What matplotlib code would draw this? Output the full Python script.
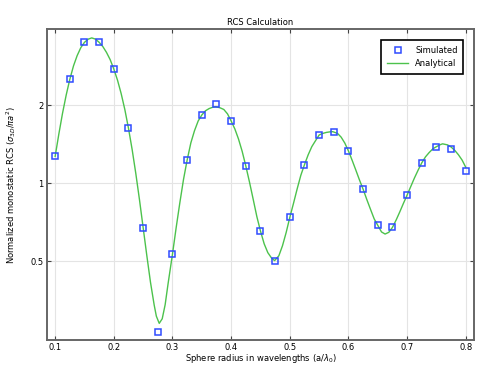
import matplotlib
matplotlib.use("Agg")
import matplotlib.pyplot as plt
from matplotlib.ticker import FixedLocator, NullLocator, FormatStrFormatter

# Simulierte Punkte (a/lambda0 von 0.1 bis 0.8)
sim_x = [0.1, 0.125, 0.15, 0.175, 0.2, 0.225, 0.25, 0.275, 0.3, 0.325,
         0.35, 0.375, 0.4, 0.425, 0.45, 0.475, 0.5, 0.525, 0.55, 0.575,
         0.6, 0.625, 0.65, 0.675, 0.7, 0.725, 0.75, 0.775, 0.8]
sim_y = [1.27, 2.53, 3.52, 3.52, 2.76, 1.63, 0.674, 0.266, 0.533, 1.23,
         1.835, 2.02, 1.74, 1.166, 0.654, 0.50, 0.739, 1.18, 1.536, 1.58,
         1.33, 0.948, 0.688, 0.676, 0.901, 1.20, 1.377, 1.357, 1.119]

# Analytische Kurve
ana_x = [0.1, 0.1063, 0.1125, 0.1188, 0.125, 0.1313, 0.1375, 0.1438, 0.15, 0.1563,
         0.1624, 0.1688, 0.175, 0.1813, 0.1875, 0.1938, 0.2, 0.2063, 0.2125, 0.2188,
         0.225, 0.2313, 0.2375, 0.2438, 0.25, 0.2563, 0.2625, 0.2688, 0.2725, 0.2774,
         0.2825, 0.2875, 0.2925, 0.3, 0.3063, 0.3125, 0.3188, 0.325, 0.3313, 0.3375,
         0.3438, 0.35, 0.3563, 0.3625, 0.3688, 0.3738, 0.3813, 0.3875, 0.3938, 0.4,
         0.4063, 0.4125, 0.4188, 0.425, 0.4313, 0.4375, 0.4438, 0.45, 0.4563, 0.4625,
         0.4688, 0.4741, 0.4813, 0.4875, 0.4938, 0.5, 0.5063, 0.5125, 0.5188, 0.525,
         0.5313, 0.5375, 0.5438, 0.55, 0.5563, 0.5625, 0.5688, 0.5733, 0.5813, 0.5875,
         0.5938, 0.6, 0.6063, 0.6125, 0.6188, 0.625, 0.6313, 0.6375, 0.6438, 0.65,
         0.6563, 0.6624, 0.6688, 0.675, 0.6813, 0.6875, 0.6938, 0.7, 0.7063, 0.7125,
         0.7188, 0.725, 0.7313, 0.7375, 0.7438, 0.75, 0.7563, 0.7604, 0.7688, 0.775,
         0.7813, 0.7875, 0.7938, 0.8]
ana_y = [1.27, 1.55, 1.86, 2.19, 2.52, 2.84, 3.11, 3.34, 3.50, 3.60,
         3.64, 3.60, 3.50, 3.37, 3.20, 3.00, 2.76, 2.50, 2.22, 1.925,
         1.63, 1.347, 1.09, 0.862, 0.674, 0.525, 0.415, 0.339, 0.307, 0.288,
         0.30, 0.34, 0.41, 0.533, 0.675, 0.84, 1.035, 1.23, 1.432, 1.595,
         1.74, 1.835, 1.905, 1.943, 1.966, 1.976, 1.955, 1.927, 1.853, 1.74,
         1.621, 1.483, 1.328, 1.166, 1.01, 0.869, 0.744, 0.654, 0.584, 0.54,
         0.515, 0.503, 0.525, 0.574, 0.646, 0.739, 0.837, 0.951, 1.074, 1.18,
         1.288, 1.385, 1.46, 1.536, 1.558, 1.572, 1.58, 1.582, 1.558, 1.507,
         1.429, 1.332, 1.226, 1.125, 1.029, 0.948, 0.865, 0.794, 0.729, 0.688,
         0.649, 0.637, 0.647, 0.676, 0.722, 0.776, 0.838, 0.901, 0.973, 1.049,
         1.125, 1.20, 1.265, 1.314, 1.358, 1.385, 1.409, 1.42, 1.407, 1.38,
         1.339, 1.288, 1.228, 1.152]

plt.rcParams['font.family'] = ['DejaVu Sans']
plt.rcParams['mathtext.fontset'] = 'dejavusans'

fig = plt.figure(figsize=(4.79, 3.66), dpi=100)
ax = fig.add_axes([0.098, 0.071, 0.8916, 0.849])

ax.plot(ana_x, ana_y, '-', color='#4cc24c', lw=1.0, label='Analytical', zorder=2)
ax.plot(sim_x, sim_y, 's', mfc='none', mec='#2f4bff', mew=1.1, ms=4.8,
        label='Simulated', zorder=3)

ax.set_yscale('log')
ax.set_xlim(0.086, 0.814)
ax.set_ylim(0.2484, 3.93)
ax.yaxis.set_major_locator(FixedLocator([0.5, 1, 2]))
ax.yaxis.set_minor_locator(NullLocator())
ax.yaxis.set_major_formatter(FormatStrFormatter('%g'))
ax.set_xticks([0.1, 0.2, 0.3, 0.4, 0.5, 0.6, 0.7, 0.8])
ax.xaxis.set_major_formatter(FormatStrFormatter('%g'))

ax.grid(True, color='#e4e4e4', lw=0.8, zorder=0)
ax.tick_params(direction='in', top=True, right=True, length=3, width=0.8,
               color='#444444', labelsize=6, pad=2.5)
for s in ax.spines.values():
    s.set_color('#666666')
    s.set_linewidth(1.4)

ax.set_title('RCS Calculation', fontsize=6, pad=3)
ax.set_xlabel(r'Sphere radius in wavelengths (a/$\lambda_0$)', fontsize=6, labelpad=0)
ax.set_ylabel(r'Normalized monostatic RCS ($\sigma_{3D}/\pi a^2$)', fontsize=6, labelpad=9)

h, l = ax.get_legend_handles_labels()
leg = ax.legend(h[::-1], l[::-1], loc='upper right', fontsize=6, fancybox=False,
                framealpha=1, edgecolor='black', borderpad=0.7, handlelength=2.6,
                bbox_to_anchor=(0.985, 0.978))
leg.get_frame().set_linewidth(1.2)

fig.savefig('out.png', dpi=100)
